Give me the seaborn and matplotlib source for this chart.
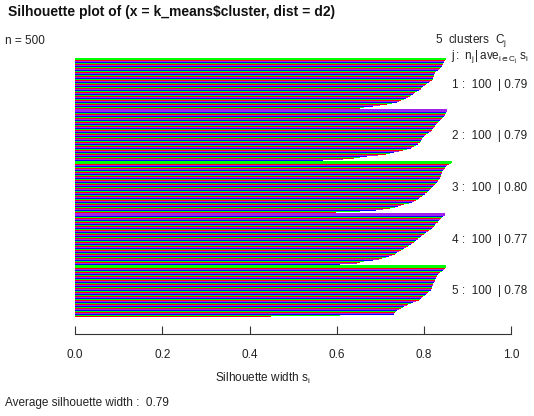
import numpy as np
import pandas as pd
import matplotlib
matplotlib.use("Agg")
import matplotlib.pyplot as plt
import seaborn as sns

# ---------------- data ----------------
cluster_ids = [1, 2, 3, 4, 5]
cluster_sizes = [100, 100, 100, 100, 100]
cluster_avg = [0.79, 0.79, 0.80, 0.77, 0.78]
overall_avg = 0.79
n_total = 500

sil_c1 = [.850, .849, .848, .847, .846, .845, .845,
          .844, .844, .843, .842, .842, .841, .840,
          .840, .839, .838, .837, .836, .835, .834,
          .833, .832, .830, .829, .827, .826,
          .825, .824, .824, .823, .822, .822, .821,
          .821, .821, .820, .820, .820, .820, .820,
          .820, .818, .817, .815, .813, .812,
          .810, .808, .806, .805, .803, .801, .800,
          .798, .797, .796, .795, .794, .793, .792,
          .791, .789, .787, .785, .783, .781,
          .779, .778, .776, .774, .773, .771, .770,
          .768, .766, .764, .761, .759, .757, .754,
          .752, .750, .747, .745, .742, .740,
          .737, .732, .726, .720,
          .714, .707, .699,
          .691, .681, .671,
          .661, .657, .653]
sil_c2 = [.852, .851, .851, .850, .850, .849, .849, .848,
          .848, .847, .846, .845, .843, .842, .841,
          .840, .839, .838, .836, .835, .834,
          .833, .832, .831, .829, .828, .827, .826,
          .825, .824, .824, .823, .822, .821, .821,
          .820, .819, .818, .817, .816, .815,
          .814, .812, .810, .809, .807, .805, .804,
          .802, .801, .800, .799, .798, .797, .796,
          .795, .795, .794, .793, .792, .792,
          .791, .790, .789, .788, .786, .785, .784,
          .783, .781, .779, .777, .775, .772, .770,
          .768, .764, .760,
          .756, .751, .746,
          .741, .736, .731, .727,
          .722, .717, .712,
          .707, .694, .681,
          .669, .661, .653, .646,
          .638, .625, .612,
          .600, .568]
sil_c3 = [.862, .860, .858, .856, .854,
          .852, .851, .850, .849, .848, .847, .847,
          .846, .845, .844, .843, .842, .841, .841,
          .840, .840, .839, .839, .838, .838,
          .838, .837, .837, .836, .836, .836, .835,
          .835, .834, .833, .832, .831, .830,
          .829, .828, .827, .826, .824, .823, .822,
          .821, .820, .819, .818, .817, .816, .815,
          .814, .813, .811, .810, .808, .807,
          .806, .805, .804, .802, .801, .800, .798,
          .797, .795, .794, .792, .790, .789,
          .787, .785, .784, .782, .780, .778, .777,
          .775, .771, .768,
          .764, .759, .754, .750,
          .745, .742, .740,
          .737, .732, .727,
          .722, .713, .705, .697,
          .688, .670,
          .653, .625,
          .596]
sil_c4 = [.847, .846, .844, .843, .841,
          .840, .839, .838, .837, .836, .835, .834,
          .833, .832, .831, .830, .828, .827, .826,
          .825, .824, .823, .822, .821, .820, .819,
          .818, .817, .815, .814, .813, .811,
          .810, .808, .806, .804, .803, .801, .800,
          .798, .796, .795, .793, .792, .790, .789,
          .787, .786, .785, .784, .782, .781, .780,
          .779, .777, .775, .773, .771, .770,
          .768, .766, .764, .763, .761, .759, .758,
          .756, .754, .752, .750, .747, .745, .743,
          .741, .740, .738, .737, .735, .733, .732,
          .730, .726, .722, .718, .714, .711,
          .707, .703, .699, .695,
          .691, .681, .671,
          .661, .657, .653, .650,
          .646, .627,
          .607]
sil_c5 = [.850, .849, .848, .847, .846, .845, .844,
          .843, .841, .840, .838, .836, .835,
          .833, .832, .831, .830, .829, .828, .828,
          .827, .827, .826, .826, .825, .825, .824,
          .824, .823, .823, .822, .821, .821,
          .820, .820, .820, .819, .819, .819, .818,
          .818, .818, .817, .817, .816, .815, .815,
          .814, .813, .811, .810, .809, .807,
          .806, .805, .803, .802, .800, .798, .797,
          .795, .794, .793, .792, .790, .789, .788,
          .787, .784, .781, .777, .774, .771,
          .768, .766, .763, .761, .759, .757, .754,
          .752, .750, .748, .746, .743, .741, .739,
          .737, .736, .735, .734, .733, .732, .731, .730, .730, .729,
          .607, .577, .448]
sil_values = [sil_c1, sil_c2, sil_c3, sil_c4, sil_c5]

bar_colors = ["#FF0000", "#00FF00", "#0000FF", "#A020F0"]
x_ticks = [0.0, 0.2, 0.4, 0.6, 0.8, 1.0]
x_tick_labels = ["0.0", "0.2", "0.4", "0.6", "0.8", "1.0"]

# ---------------- build table ----------------
gap = 4
total_units = sum(cluster_sizes) + gap * (len(cluster_sizes) - 1)
rows = []
offset = 0
for c, vals in enumerate(sil_values):
    for j, v in enumerate(vals):
        g = offset + j
        rows.append({"s": v, "pos": total_units - g - 0.5})
    offset += len(vals) + gap
df = pd.DataFrame(rows)
df = df.sort_values("pos").reset_index(drop=True)
# one colour per pixel row (two bars), cycling through the palette
df["colour"] = [bar_colors[(k // 2) % 4] for k in range(len(df))]
colour_of = dict(zip(df["pos"].round(3), df["colour"]))

# ---------------- figure ----------------
sns.set_style("white")
plt.rcParams["font.family"] = ["Liberation Sans", "DejaVu Sans"]
plt.rcParams["mathtext.fontset"] = "custom"
plt.rcParams["mathtext.rm"] = "Liberation Sans"
plt.rcParams["mathtext.it"] = "Liberation Sans"

W, H = 534, 416
fig = plt.figure(figsize=(W / 100, H / 100), dpi=100)
fig.patch.set_facecolor("white")

def fx(x):
    return x / W

def fy(y):
    return 1 - y / H

ax_left, ax_right, ax_top, ax_bot = 75, 511.3, 58, 334
ax = fig.add_axes([fx(ax_left), fy(ax_bot), (ax_right - ax_left) / W, (ax_bot - ax_top) / H])

sns.barplot(data=df, x="s", y="pos", orient="h", native_scale=True,
            width=2.0, errorbar=None, color=bar_colors[0], saturation=1,
            linewidth=0, ax=ax)
for p in ax.patches:
    yc = round(p.get_y() + p.get_height() / 2, 3)
    p.set_facecolor(colour_of.get(yc, bar_colors[0]))
    p.set_antialiased(False)
    p.set_snap(False)
    p.set_linewidth(0)

ax.set_xlim(0, 1)
ax.set_ylim(-36, total_units)
ax.set_facecolor("white")
for side in ["left", "top", "right"]:
    ax.spines[side].set_visible(False)
ax.spines["bottom"].set_color("#333333")
ax.spines["bottom"].set_linewidth(0.8)
ax.set_yticks([])
ax.set_xticks(x_ticks)
ax.set_xticklabels(x_tick_labels, fontsize=8.5, color="#222222")
ax.tick_params(axis="x", direction="in", length=5.5, width=0.8, color="#333333", pad=11, bottom=True)
ax.set_xlabel("")
ax.set_ylabel("")

tc = "#222222"
fs = 8.5
fig.text(fx(8), fy(12), "Silhouette plot of (x = k_means$cluster, dist = d2)",
         fontsize=10, fontweight="bold", ha="left", va="center", color="#111111")
fig.text(fx(5), fy(41), "n = %d" % n_total, fontsize=fs, ha="left", va="center", color=tc)
fig.text(fx(507), fy(41), r"%d  clusters  $\mathregular{C_j}$" % len(cluster_ids),
         fontsize=fs, ha="right", va="center", color=tc)
fig.text(fx(529), fy(57), r"$\mathregular{j:\ n_j\,|\,ave_{i\in C_j}\ s_i}$",
         fontsize=fs, ha="right", va="center", color=tc)
row_y = [85, 136, 188, 240, 291]
for cid, n, a, yy in zip(cluster_ids, cluster_sizes, cluster_avg, row_y):
    fig.text(fx(527), fy(yy), "%d :  %d  | %.2f" % (cid, n, a),
             fontsize=fs, ha="right", va="center", color=tc)
fig.text(fx(263), fy(378), r"Silhouette width $\mathregular{s_i}$",
         fontsize=fs, ha="center", va="center", color=tc)
fig.text(fx(5), fy(403), "Average silhouette width :  %.2f" % overall_avg,
         fontsize=fs, ha="left", va="center", color=tc)

fig.savefig("out.png", dpi=100, facecolor="white")
